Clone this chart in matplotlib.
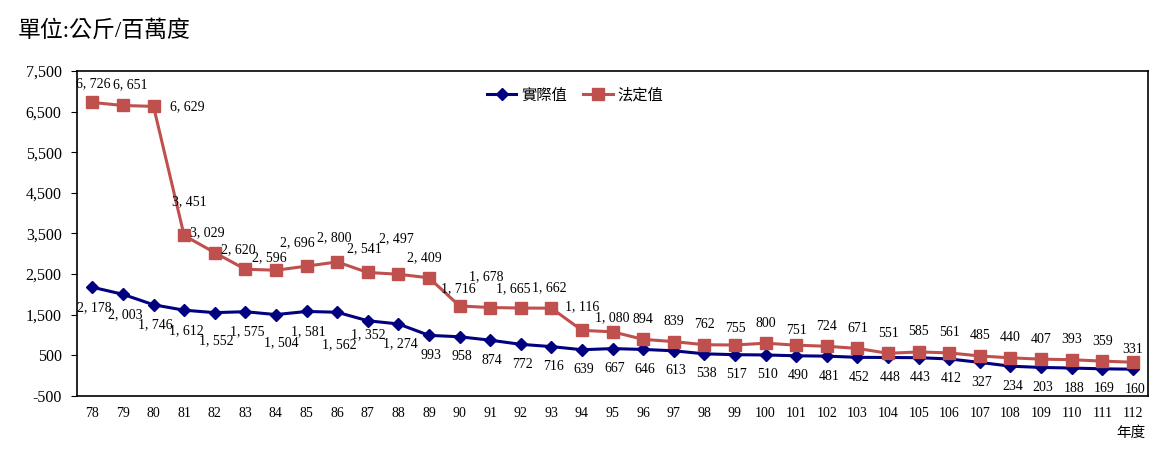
import matplotlib.pyplot as plt

years = [str(y) for y in range(78, 113)]
actual = [2178, 2003, 1746, 1612, 1552, 1575, 1504, 1581, 1562, 1352, 1274, 993,
          958, 874, 772, 716, 639, 667, 646, 613, 538, 517, 510, 490, 481, 452,
          448, 443, 412, 327, 234, 203, 188, 169, 160]
legal = [6726, 6651, 6629, 3451, 3029, 2620, 2596, 2696, 2800, 2541, 2497, 2409,
         1716, 1678, 1665, 1662, 1116, 1080, 894, 839, 762, 755, 800, 751, 724,
         671, 551, 585, 561, 485, 440, 407, 393, 359, 331]

plt.rcParams['font.family'] = ['Liberation Serif', 'Noto Sans CJK TC']

fig = plt.figure(figsize=(11.58, 4.61), dpi=100)
ax = fig.add_axes([0.0665, 0.141, 0.925, 0.705])

x = list(range(len(years)))
ax.plot(x, actual, color='#000080', lw=2.2, marker='D', ms=6, label='實際值', zorder=3)
ax.plot(x, legal, color='#C0504D', lw=2.2, marker='s', ms=8, label='法定值', zorder=3)

def fmt(v):
    return '{:,}'.format(v).replace(',', ', ')

# label offsets in pixels, moved around like in the original
red_off = {0: (1, 19), 1: (7, 21), 2: (34, 0), 3: (5, 34), 4: (-7, 20), 5: (-7, 20),
           6: (-7, 13), 7: (-9, 23), 8: (-3, 24), 9: (-3, 24), 10: (-2, 36),
           11: (-5, 20), 12: (-1, 17), 13: (-4, 31), 14: (-8, 19), 15: (-2, 20),
           16: (0, 24), 17: (0, 14), 21: (0, 17), 23: (0, 15), 34: (0, 13)}
blue_off = {4: (2, -28), 6: (5, -28), 8: (2, -32), 9: (1, -14)}

for i, v in enumerate(legal):
    dx, dy = red_off.get(i, (0, 20))
    ax.annotate(fmt(v), (i, v), xytext=(dx, dy), textcoords='offset pixels',
                ha='center', va='center', fontsize=10)
for i, v in enumerate(actual):
    dx, dy = blue_off.get(i, (2, -20))
    ax.annotate(fmt(v), (i, v), xytext=(dx, dy), textcoords='offset pixels',
                ha='center', va='center', fontsize=10)

ax.set_xlim(-0.5, len(years) - 0.5)
ax.set_ylim(-500, 7500)
ax.set_yticks(range(-500, 7501, 1000))
ax.set_yticklabels(['{:,}'.format(t) for t in range(-500, 7501, 1000)], fontsize=11.5)
ax.set_xticks(x)
ax.set_xticklabels(years, fontsize=10)
ax.tick_params(axis='x', length=0, pad=8)
ax.tick_params(axis='y', length=4, direction='out', pad=7)
for s in ax.spines.values():
    s.set_linewidth(1.2)

ax.legend(loc='center', bbox_to_anchor=(0.465, 0.925), ncol=2, frameon=False,
          fontsize=11, handlelength=1.9, columnspacing=1.1, handletextpad=0.3)

fig.text(0.015, 0.933, '單位:公斤/百萬度', fontsize=16.5, ha='left', va='center')
fig.text(0.989, 0.061, '年度', fontsize=10.5, ha='right', va='center')

fig.savefig('out.png', dpi=100)
